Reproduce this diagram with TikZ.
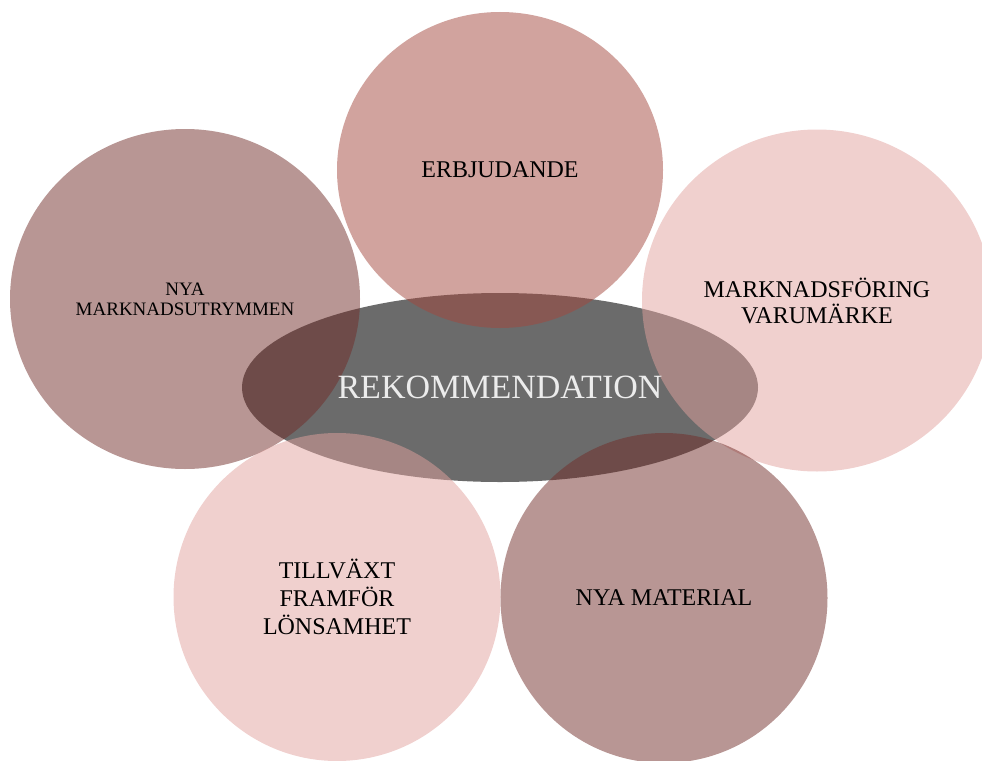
\documentclass[tikz,border=0pt]{standalone}
\usepackage{fontspec}
\setmainfont{Liberation Serif}
\usetikzlibrary{shapes.geometric}

\definecolor{rosefill}{RGB}{163,71,61}
\definecolor{mauvefill}{RGB}{113,45,41}
\definecolor{pinkfill}{RGB}{225,161,157}
\definecolor{hubgray}{RGB}{107,107,107}
\definecolor{hubtext}{RGB}{236,236,236}

\begin{document}
\begin{tikzpicture}[x=1pt, y=-1pt,
  hub/.style={ellipse, inner sep=0pt, fill=hubgray, draw=none},
  bubble/.style={ellipse, inner sep=0pt, draw=none, fill opacity=0.5,
    text opacity=1, text=black, align=center,
    font=\fontsize{24}{27}\selectfont},
  hublabel/.style={text=hubtext, font=\fontsize{34}{40}\selectfont}]

\useasboundingbox (0,0) rectangle (982,760);

% central ellipse, drawn first so the bubbles tint it
\node[hub, minimum width=516pt, minimum height=189pt] (hub) at (500,387.5) {};

% surrounding bubbles
\node[bubble, fill=rosefill, minimum width=326pt, minimum height=316pt]
  (offer) at (500,170) {ERBJUDANDE};
\node[bubble, fill=mauvefill, minimum width=350pt, minimum height=340pt,
  font=\fontsize{19}{20}\selectfont]
  (space) at (185,299) {NYA\\MARKNADSUTRYMMEN};
\node[bubble, fill=pinkfill, minimum width=350pt, minimum height=342pt,
  font=\fontsize{24}{26}\selectfont]
  (brand) at (817,300.5) {MARKNADSFÖRING\\VARUMÄRKE};
\node[bubble, fill=pinkfill, minimum width=327pt, minimum height=328pt,
  font=\fontsize{24}{28}\selectfont]
  (growth) at (337,597) {TILLVÄXT\\FRAMFÖR\\LÖNSAMHET};
\node[bubble, fill=mauvefill, minimum width=327pt, minimum height=330pt]
  (material) at (664,598) {NYA MATERIAL};

% hub label on top of everything
\node[hublabel] (hubtitle) at (hub.center) {REKOMMENDATION};

\end{tikzpicture}
\end{document}
